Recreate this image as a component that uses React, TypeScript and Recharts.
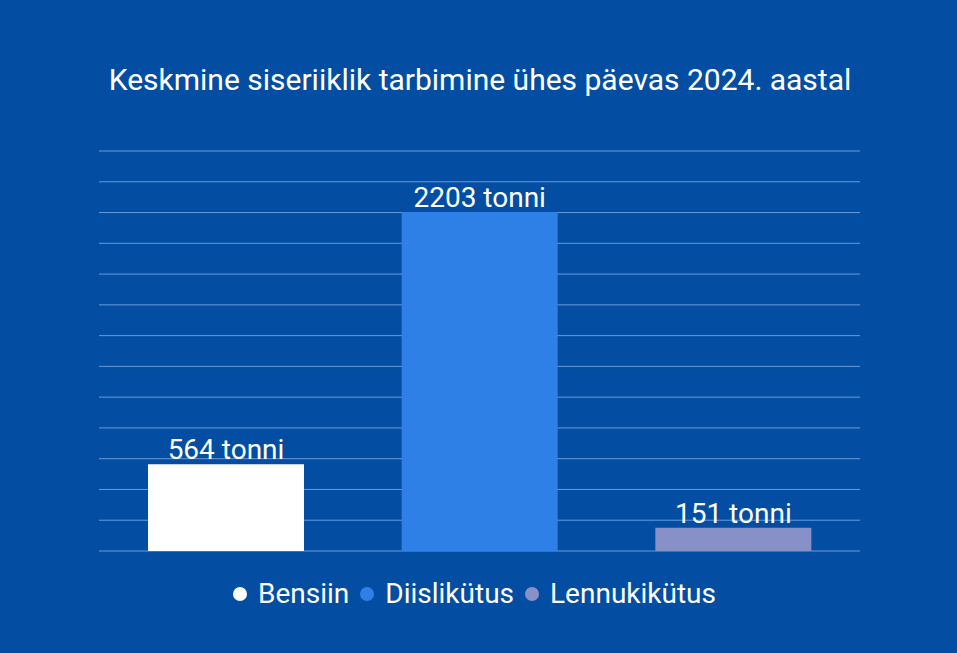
import { Bar, BarChart, CartesianGrid, Cell, LabelList, XAxis, YAxis } from 'recharts'

const categories = ['Bensiin', 'Diislikütus', 'Lennukikütus']
const values = [564, 2203, 151]
const colors = ['#ffffff', '#2f80e6', '#8791c8']
const yTicks = [0, 200, 400, 600, 800, 1000, 1200, 1400, 1600, 1800, 2000, 2200, 2400, 2600]

const title = 'Keskmine siseriiklik tarbimine ühes päevas 2024. aastal'
const FONT = 'Roboto, "Noto Sans", sans-serif'
const BG = '#034ea2'

const data = categories.map((name, i) => ({ name, value: values[i], color: colors[i] }))

function ChartLegend() {
  return (
    <div
      style={{
        position: 'absolute',
        top: 580,
        left: -4,
        width: 957,
        display: 'flex',
        justifyContent: 'center',
        alignItems: 'center',
        gap: 11,
        fontSize: 28,
        lineHeight: '28px',
        color: '#ffffff',
      }}
    >
      {data.map((d) => (
        <span key={d.name} style={{ display: 'flex', alignItems: 'center', gap: 11 }}>
          <span style={{ width: 14, height: 14, borderRadius: '50%', background: d.color }} />
          {d.name}
        </span>
      ))}
    </div>
  )
}

export default function App() {
  return (
    <div
      style={{
        position: 'absolute',
        left: 0,
        top: 0,
        width: 957,
        height: 653,
        background: BG,
        fontFamily: FONT,
      }}
    >
      <div
        style={{
          position: 'absolute',
          top: 65,
          left: 0,
          width: 960,
          textAlign: 'center',
          color: '#ffffff',
          fontSize: 30,
          lineHeight: '30px',
        }}
      >
        {title}
      </div>
      <BarChart
        width={957}
        height={653}
        data={data}
        margin={{ top: 151, right: 97, bottom: 102, left: 99 }}
      >
        <CartesianGrid vertical={false} stroke="#6a9ad8" strokeWidth={1} />
        <XAxis dataKey="name" hide />
        <YAxis hide domain={[0, 2600]} ticks={yTicks} />
        <Bar dataKey="value" barSize={156} isAnimationActive={false}>
          {data.map((d) => (
            <Cell key={d.name} fill={d.color} />
          ))}
          <LabelList
            dataKey="value"
            position="top"
            offset={5}
            formatter={(v) => `${v} tonni`}
            fill="#ffffff"
            fontSize={28}
            fontFamily={FONT}
          />
        </Bar>
      </BarChart>
      <ChartLegend />
    </div>
  )
}
